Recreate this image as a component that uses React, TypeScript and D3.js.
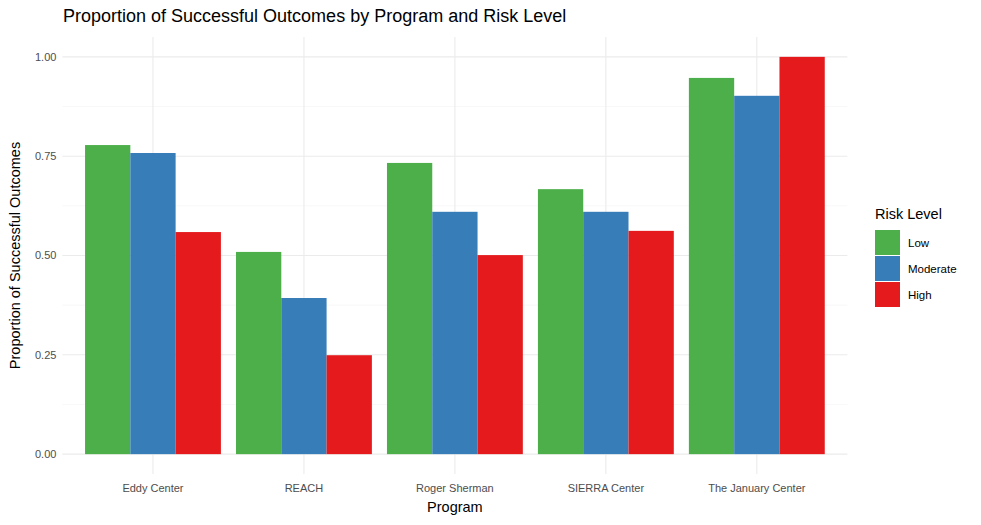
import React from "react";
import * as d3 from "d3";

const programs = ["Eddy Center", "REACH", "Roger Sherman", "SIERRA Center", "The January Center"];
const levels = ["Low", "Moderate", "High"];
const colors = ["#4DAF4A", "#377EB8", "#E41A1C"];
const low = [0.778, 0.509, 0.733, 0.667, 0.947];
const moderate = [0.758, 0.393, 0.61, 0.61, 0.902];
const high = [0.559, 0.249, 0.501, 0.562, 1.0];
const yTicks = [0, 0.25, 0.5, 0.75, 1.0];
const series = [low, moderate, high];

export default function App() {
  const W = 981, H = 525;
  const L = 62.4, R = 847.4, T = 37, B = 474;
  const step = (R - L) / 5.2;
  const xc = (i: number) => L + (0.6 + i) * step;
  const y = d3.scaleLinear().domain([-0.05, 1.05]).range([B, T]);
  const gw = step * 0.9, bw = gw / 3;
  const minor = [0.125, 0.375, 0.625, 0.875];
  return (
    <svg width={W} height={H} style={{ position: "absolute", left: 0, top: 0, fontFamily: "Liberation Sans, Arial, sans-serif" }}>
      <rect width={W} height={H} fill="white" />
      {minor.map(v => <line key={"m" + v} x1={L} x2={R} y1={y(v)} y2={y(v)} stroke="#f3f3f3" strokeWidth={0.6} />)}
      {yTicks.map(v => <line key={"g" + v} x1={L} x2={R} y1={y(v)} y2={y(v)} stroke="#ebebeb" strokeWidth={1.1} />)}
      {programs.map((p, i) => <line key={"x" + p} x1={xc(i)} x2={xc(i)} y1={T} y2={B} stroke="#ebebeb" strokeWidth={1.1} />)}
      {programs.map((p, i) =>
        series.map((s, j) => (
          <rect key={p + j} x={xc(i) - gw / 2 + j * bw} width={bw} y={y(s[i])} height={y(0) - y(s[i])} fill={colors[j]} />
        ))
      )}
      {yTicks.map(v => (
        <text key={"t" + v} x={L - 6} y={y(v)} dy="0.35em" textAnchor="end" fontSize={11} fill="#4d4d4d">{v.toFixed(2)}</text>
      ))}
      {programs.map((p, i) => (
        <text key={"l" + p} x={xc(i)} y={B + 18} textAnchor="middle" fontSize={11} fill="#4d4d4d">{p}</text>
      ))}
      <text x={63} y={22} fontSize={18} fill="black">Proportion of Successful Outcomes by Program and Risk Level</text>
      <text x={(L + R) / 2} y={512} textAnchor="middle" fontSize={14.5}>Program</text>
      <text transform={`translate(20,${(T + B) / 2}) rotate(-90)`} textAnchor="middle" fontSize={14.5}>Proportion of Successful Outcomes</text>
      <text x={875} y={219} fontSize={14.5}>Risk Level</text>
      {levels.map((l, j) => (
        <g key={l}>
          <rect x={875} y={230 + j * 26} width={25} height={25} fill={colors[j]} />
          <text x={908} y={243 + j * 26} dy="0.35em" fontSize={11.5}>{l}</text>
        </g>
      ))}
    </svg>
  );
}
